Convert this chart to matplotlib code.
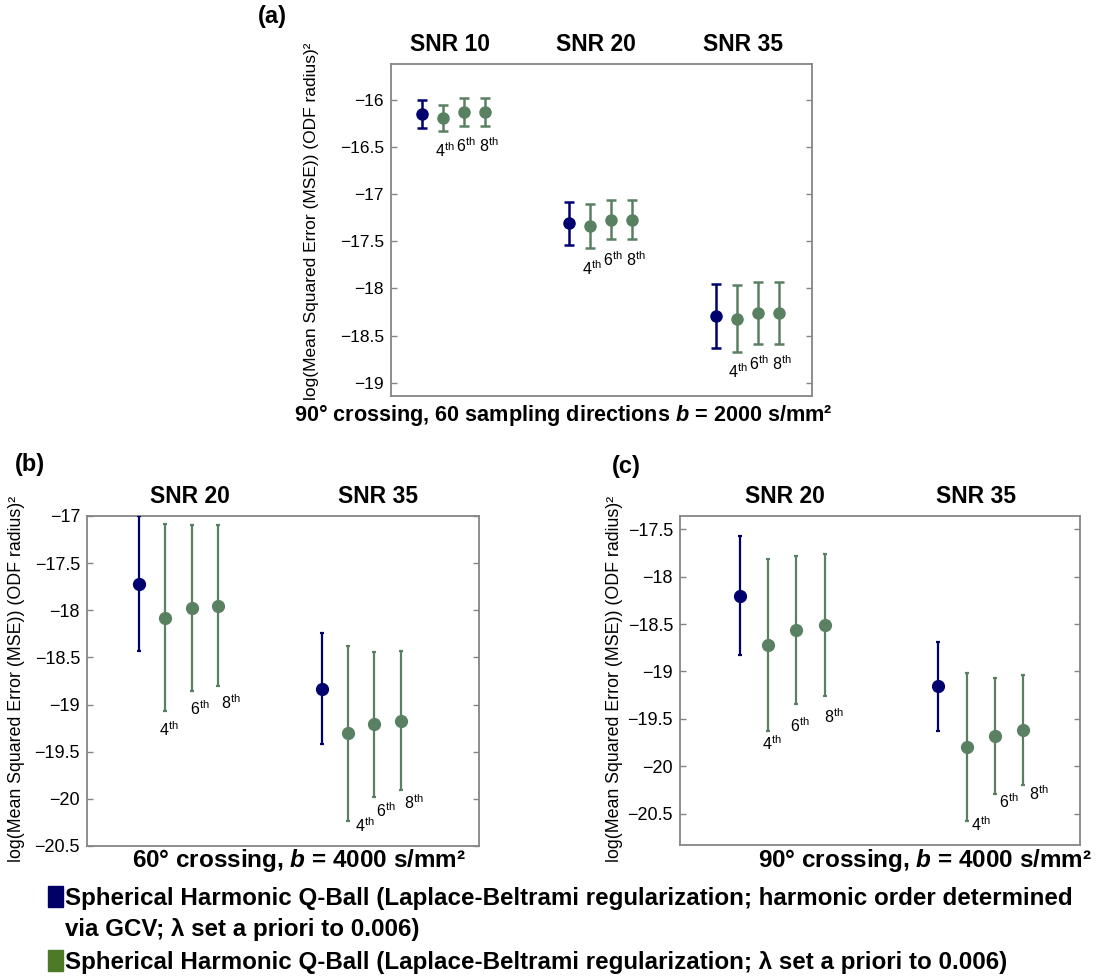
import matplotlib
matplotlib.use("Agg")
import matplotlib.pyplot as plt
from matplotlib.patches import Rectangle


# (a) 90 deg crossing, 60 sampling directions, b = 2000
a_snr = ["SNR 10", "SNR 20", "SNR 35"]
a_gcv_mean = [-16.15, -17.31, -18.29]
a_gcv_err = [0.15, 0.23, 0.34]
a_fix_mean = [[-16.19, -16.13, -16.13], [-17.34, -17.27, -17.27], [-18.32, -18.26, -18.26]]
a_fix_err = [[0.14, 0.145, 0.145], [0.235, 0.21, 0.21], [0.355, 0.33, 0.33]]

# (b) 60 deg crossing, b = 4000
b_snr = ["SNR 20", "SNR 35"]
b_gcv_mean = [-17.72, -18.83]
b_gcv_err = [0.715, 0.585]
b_fix_mean = [[-18.08, -17.975, -17.95], [-19.305, -19.21, -19.17]]
b_fix_err = [[0.99, 0.88, 0.855], [0.93, 0.765, 0.74]]

# (c) 90 deg crossing, b = 4000
c_snr = ["SNR 20", "SNR 35"]
c_gcv_mean = [-18.20, -19.155]
c_gcv_err = [0.625, 0.47]
c_fix_mean = [[-18.72, -18.565, -18.51], [-19.80, -19.68, -19.62]]
c_fix_err = [[0.91, 0.78, 0.75], [0.78, 0.61, 0.58]]

orders = ["4", "6", "8"]

BLUE = "#00006e"
GREEN = "#5a8062"
LEG_BLUE = "#000066"
LEG_GREEN = "#4e7a28"
FRAME = "#858585"

plt.rcParams.update({
    "font.family": ["Liberation Sans", "DejaVu Sans"],
    "mathtext.fontset": "custom",
    "mathtext.rm": "Liberation Sans",
    "mathtext.it": "Liberation Sans:italic",
    "mathtext.bf": "Liberation Sans:bold",
    "mathtext.bfit": "Liberation Sans:italic:bold",
})

W, H = 1110, 977


def fx(px):
    return px / W


def fy(py):
    return 1 - py / H


def draw_panel(ax, snr, gcv_mean, gcv_err, fix_mean, fix_err, ylim, yticks,
               xlim, title_x, lab_off, cap, ms, lw, tick_fs):
    for g in range(len(snr)):
        x0 = 1 + 7 * g
        ax.errorbar([x0], [gcv_mean[g]], yerr=[gcv_err[g]], fmt="o", color=BLUE,
                    ms=ms, elinewidth=lw, capsize=cap, capthick=lw, zorder=3)
        xs = [x0 + 1 + i for i in range(3)]
        ax.errorbar(xs, fix_mean[g], yerr=fix_err[g], fmt="o", color=GREEN,
                    ms=ms, elinewidth=lw, capsize=cap, capthick=lw, zorder=3)
        for i in range(3):
            dx, dy = lab_off[g][i]
            ax.annotate(orders[i] + r"$^{\mathrm{th}}$",
                        xy=(xs[i], fix_mean[g][i] - fix_err[g][i]),
                        xytext=(dx * 0.72, dy * 0.72), textcoords="offset points",
                        ha="center", va="center", fontsize=11.5)
        ax.text(title_x[g], 1.06, snr[g], transform=ax.get_xaxis_transform(),
                ha="center", va="center", fontsize=16.5, fontweight="bold")

    ax.set_xlim(*xlim)
    ax.set_ylim(*ylim)
    ax.set_xticks([])
    ax.set_yticks(yticks)
    ax.set_yticklabels([f"{t:g}".replace("-", "\u2212") for t in yticks])
    ax.tick_params(axis="y", direction="in", left=True, right=True, length=4,
                   width=1, color=FRAME, labelsize=tick_fs, pad=5)
    for sp in ax.spines.values():
        sp.set_color(FRAME)
        sp.set_linewidth(1.3)


fig = plt.figure(figsize=(11.1, 9.77), dpi=100)

ylabel = "log(Mean Squared Error (MSE)) (ODF radius)\u00b2"

# panel (a)
ax_a = fig.add_axes([fx(391), fy(396), fx(812) - fx(391), fy(64) - fy(396)])
draw_panel(ax_a, a_snr, a_gcv_mean, a_gcv_err, a_fix_mean, a_fix_err,
           ylim=(-19.14, -15.62), yticks=[-19, -18.5, -18, -17.5, -17, -16.5, -16],
           xlim=(-0.5, 19.56), title_x=[2.33, 9.28, 16.27],
           lab_off=[[(1, -20), (1, -20), (3, -20)]] * 3,
           cap=3.8, ms=8, lw=1.8, tick_fs=12.5)
ax_a.set_ylabel(ylabel, fontsize=12.5)
ax_a.yaxis.set_label_coords(-0.17, 0.525)

# panel (b)
ax_b = fig.add_axes([fx(87), fy(846), fx(479) - fx(87), fy(516) - fy(846)])
draw_panel(ax_b, b_snr, b_gcv_mean, b_gcv_err, b_fix_mean, b_fix_err,
           ylim=(-20.5, -17.0), yticks=[-20.5, -20, -19.5, -19, -18.5, -18, -17.5, -17],
           xlim=(-1.0, 14.0), title_x=[2.94, 10.13],
           lab_off=[[(3, -18), (8, -18), (13, -16)], [(17, -5), (11, -14), (13, -12)]],
           cap=1.5, ms=8.5, lw=1.6, tick_fs=13)
ax_b.set_ylabel(ylabel, fontsize=12.8)
ax_b.yaxis.set_label_coords(-0.158, 0.505)

# panel (c)
ax_c = fig.add_axes([fx(680), fy(845), fx(1080) - fx(680), fy(516) - fy(845)])
draw_panel(ax_c, c_snr, c_gcv_mean, c_gcv_err, c_fix_mean, c_fix_err,
           ylim=(-20.83, -17.36), yticks=[-20.5, -20, -19.5, -19, -18.5, -18, -17.5],
           xlim=(-1.1, 13.0), title_x=[2.61, 9.33],
           lab_off=[[(4, -12), (4, -21), (9, -21)], [(14, -3), (14, -8), (16, -8)]],
           cap=1.5, ms=8.5, lw=1.6, tick_fs=13)
ax_c.set_ylabel(ylabel, fontsize=12.8)
ax_c.yaxis.set_label_coords(-0.1425, 0.505)

# panel letters
fig.text(fx(272), fy(16), "(a)", ha="center", va="center", fontsize=17, fontweight="bold")
fig.text(fx(30), fy(465), "(b)", ha="center", va="center", fontsize=17, fontweight="bold")
fig.text(fx(626), fy(466), "(c)", ha="center", va="center", fontsize=17, fontweight="bold")

# captions under each panel
fig.text(fx(563), fy(415), "90\u00b0 crossing, 60 sampling directions $\\mathbfit{b}$ = 2000 s/mm\u00b2",
         ha="center", va="center", fontsize=15.6, fontweight="bold")
fig.text(fx(299), fy(860), "60\u00b0 crossing, $\\mathbfit{b}$ = 4000 s/mm\u00b2",
         ha="center", va="center", fontsize=17.5, fontweight="bold")
fig.text(fx(925), fy(860), "90\u00b0 crossing, $\\mathbfit{b}$ = 4000 s/mm\u00b2",
         ha="center", va="center", fontsize=17.5, fontweight="bold")

# legend drawn by hand below the panels
fig.add_artist(Rectangle((fx(48), fy(907)), fx(63) - fx(48), fy(886) - fy(907),
                         transform=fig.transFigure, color=LEG_BLUE))
fig.add_artist(Rectangle((fx(48), fy(971)), fx(63) - fx(48), fy(950) - fy(971),
                         transform=fig.transFigure, color=LEG_GREEN))
fig.text(fx(65), fy(905), "Spherical Harmonic Q-Ball (Laplace-Beltrami regularization; harmonic order determined",
         ha="left", va="baseline", fontsize=17.4, fontweight="bold")
fig.text(fx(65), fy(936), "via GCV; \u03bb set a priori to 0.006)",
         ha="left", va="baseline", fontsize=17.4, fontweight="bold")
fig.text(fx(65), fy(969), "Spherical Harmonic Q-Ball (Laplace-Beltrami regularization; \u03bb set a priori to 0.006)",
         ha="left", va="baseline", fontsize=17.4, fontweight="bold")

fig.savefig("out.png", dpi=100)
